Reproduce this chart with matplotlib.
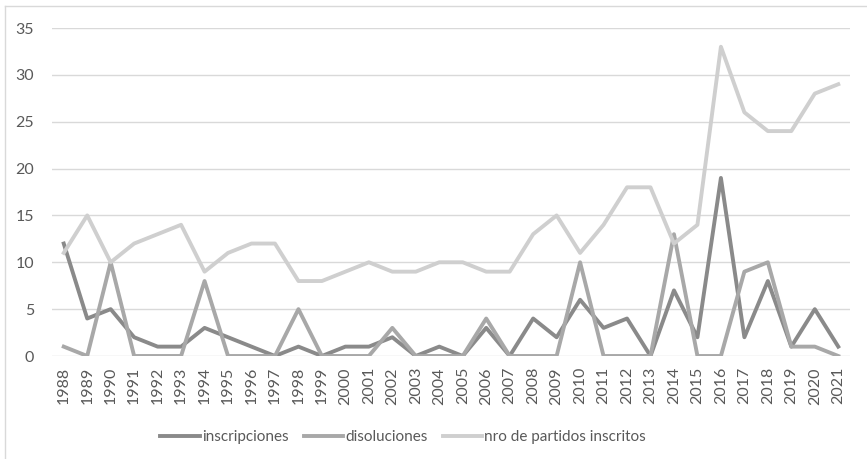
import matplotlib.pyplot as plt
import numpy as np

years = [str(y) for y in range(1988, 2022)]
inscripciones = [12, 4, 5, 2, 1, 1, 3, 2, 1, 0, 1, 0, 1, 1, 2, 0, 1, 0, 3, 0,
                 4, 2, 6, 3, 4, 0, 7, 2, 19, 2, 8, 1, 5, 1]
disoluciones = [1, 0, 10, 0, 0, 0, 8, 0, 0, 0, 5, 0, 0, 0, 3, 0, 0, 0, 4, 0,
                0, 0, 10, 0, 0, 0, 13, 0, 0, 9, 10, 1, 1, 0]
nro_partidos = [11, 15, 10, 12, 13, 14, 9, 11, 12, 12, 8, 8, 9, 10, 9, 9, 10, 10, 9, 9,
                13, 15, 11, 14, 18, 18, 12, 14, 33, 26, 24, 24, 28, 29]

plt.rcParams['font.family'] = ['Lato', 'DejaVu Sans']
txt = '#595959'

fig = plt.figure(figsize=(8.67, 4.59), dpi=100)
ax = fig.add_axes([52 / 867, 1 - 356 / 459, (850 - 52) / 867, (356 - 28) / 459])

x = np.arange(len(years))
ax.plot(x, inscripciones, color='#8a8a8a', lw=2.8, label='inscripciones')
ax.plot(x, disoluciones, color='#a8a8a8', lw=2.8, label='disoluciones')
ax.plot(x, nro_partidos, color='#cfcfcf', lw=2.8, label='nro de partidos inscritos')

ax.set_xlim(-0.5, len(years) - 0.5)
ax.set_ylim(0, 35)
ax.set_yticks(range(0, 36, 5))
ax.set_xticks(x)
ax.set_xticklabels(years, rotation=90)
ax.tick_params(length=0, colors=txt, labelsize=11.5)
ax.tick_params(axis='y', pad=13)
ax.tick_params(axis='x', pad=8)
ax.grid(axis='y', color='#d9d9d9', lw=1)
ax.set_axisbelow(True)
for s in ax.spines.values():
    s.set_visible(False)

fig.legend(loc='center', bbox_to_anchor=(403 / 867, 1 - 437 / 459), ncol=3, frameon=False,
           fontsize=11, handlelength=2.6, handletextpad=0.1, columnspacing=1.0,
           labelcolor=txt)

# chart border (only top and left visible in the crop)
fig.add_artist(plt.Line2D([5 / 867, 5 / 867], [0, 1 - 6 / 459], transform=fig.transFigure,
                          color='#d9d9d9', lw=1))
fig.add_artist(plt.Line2D([5 / 867, 1], [1 - 6 / 459, 1 - 6 / 459], transform=fig.transFigure,
                          color='#d9d9d9', lw=1))

fig.savefig('out.png', dpi=100)
